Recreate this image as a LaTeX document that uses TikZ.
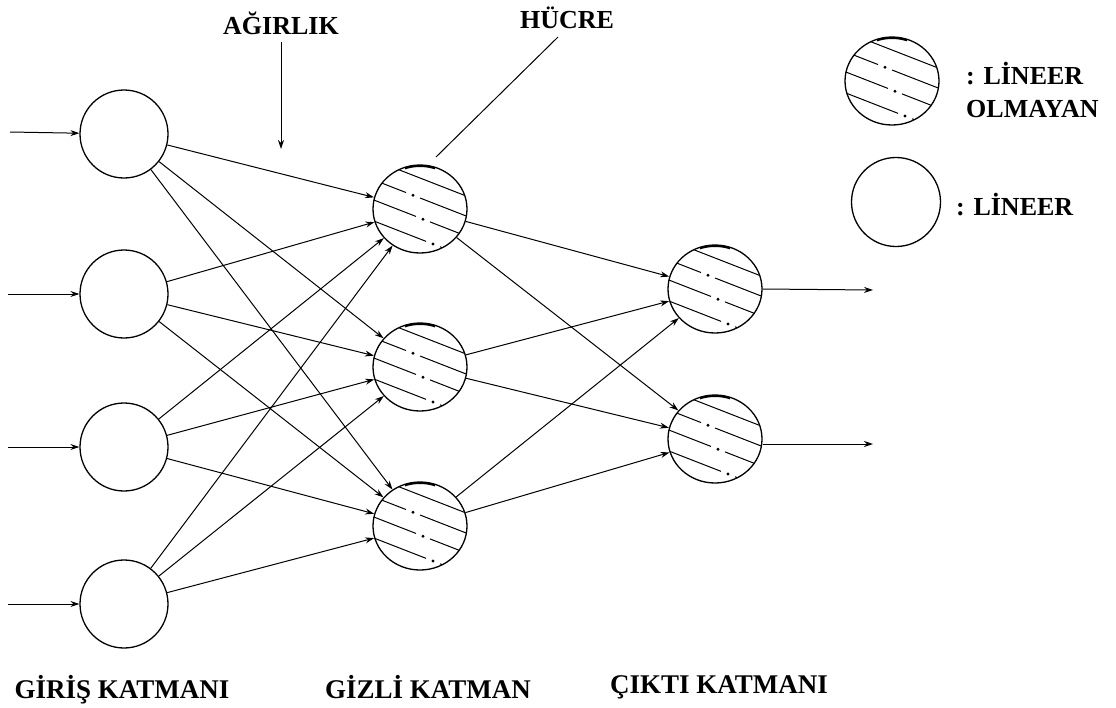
\documentclass[tikz,border=0pt]{standalone}
\usepackage{fontspec}
\setmainfont{Liberation Serif}
\usetikzlibrary{arrows.meta,shapes.geometric}
\newcommand{\hatchline}[2]{%
  \draw[line width=1pt] (-60,{#1-0.39*60}) -- ({#2},{#1+0.39*(#2)});
  \fill ({#2+7},{#1+0.39*(#2+7)}) circle (1.6);
  \draw[line width=1pt] ({#2+14},{#1+0.39*(#2+14)}) -- (60,{#1+0.39*60});
}
\tikzset{
  plain/.style={circle,draw,line width=1.3pt,minimum size=88pt,inner sep=0pt},
  hatched/.style={ellipse,draw,line width=1.3pt,minimum width=94pt,minimum height=88pt,inner sep=0pt,
    path picture={
      \begin{scope}[shift={(path picture bounding box.center)}]
        \draw[line width=1pt] (-60,{-31-0.39*60}) -- (60,{-31+0.39*60});
        \hatchline{-11}{-14}
        \hatchline{9}{-4}
        \hatchline{30}{6}
        \draw[line width=4pt] plot[domain=71:109,samples=12] ({47*cos(\x)},{-44*sin(\x)});
      \end{scope}
    }},
  conn/.style={line width=1pt,-{Stealth[length=9pt,width=6pt]}},
  lab/.style={font=\bfseries\fontsize{26}{28}\selectfont,inner sep=0pt},
  blab/.style={font=\bfseries\fontsize{27}{29}\selectfont,inner sep=0pt}
}
\begin{document}
\begin{tikzpicture}[x=1pt,y=-1pt]
\useasboundingbox (0,0) rectangle (1116,707);
% input layer
\node[plain] (i1) at (124,134) {};
\node[plain] (i2) at (124,294) {};
\node[plain] (i3) at (124,447) {};
\node[plain] (i4) at (124,604) {};
% hidden layer
\node[hatched] (h1) at (420,209) {};
\node[hatched] (h2) at (420,367) {};
\node[hatched] (h3) at (420,526) {};
% output layer
\node[hatched] (o1) at (715,289) {};
\node[hatched] (o2) at (715,439) {};
% input arrows
\coordinate (s1) at (10,132);
\coordinate (s2) at (8,294);
\coordinate (s3) at (8,447);
\coordinate (s4) at (8,604);
\foreach \k in {1,2,3,4}{\draw[conn] (s\k) -- (i\k);}
% input to hidden
\foreach \a in {1,2,3,4}{\foreach \b in {1,2,3}{\draw[conn] (i\a) -- (h\b);}}
% hidden to output
\foreach \a in {1,2,3}{\foreach \b in {1,2}{\draw[conn] (h\a) -- (o\b);}}
% outputs
\coordinate (e1) at (873,290);
\coordinate (e2) at (873,444);
\draw[conn] (o1.east) -- (e1);
\draw[conn] (o2.east |- e2) -- (e2);
% labels
\node[lab,anchor=base] (w) at (281,34) {AĞIRLIK};
\coordinate (wa) at (281,42);
\coordinate (wt) at (281,149);
\draw[conn] (wa) -- (wt);
\node[lab,anchor=base] (c) at (567,28) {HÜCRE};
\coordinate (ca) at (558,37);
\coordinate (cb) at (436,157);
\draw[line width=1pt] (ca) -- (cb);
% legend
\node[hatched] (lg1) at (892,81) {};
\node[plain,minimum size=89pt] (lg2) at (896,202) {};
\node[lab,anchor=base west] (t1) at (966,84) {: LİNEER};
\node[lab,anchor=base west] (t2) at (966,117) {OLMAYAN};
\node[lab,anchor=base west] (t3) at (956,215) {: LİNEER};
% layer names
\node[blab,anchor=base] (n1) at (122,698) {GİRİŞ KATMANI};
\node[blab,anchor=base] (n2) at (428,698) {GİZLİ KATMAN};
\node[blab,anchor=base] (n3) at (719,693) {ÇIKTI KATMANI};
\end{tikzpicture}
\end{document}
